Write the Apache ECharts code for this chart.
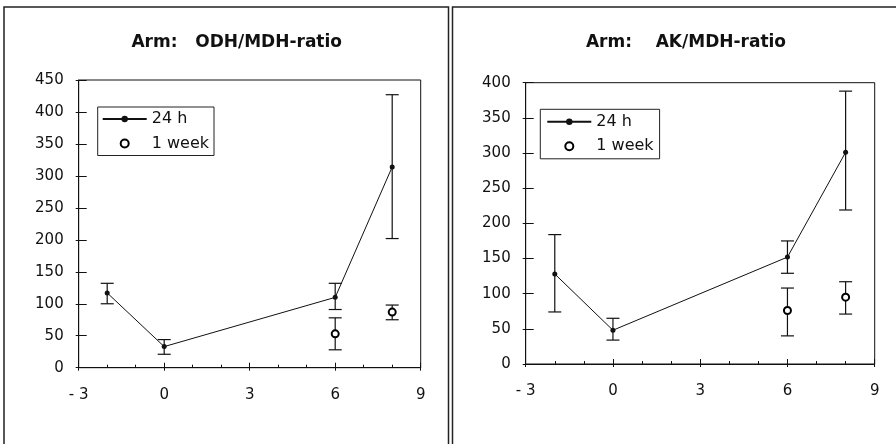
<!DOCTYPE html>
<html>
<head>
<meta charset="utf-8">
<script src="https://cdn.jsdelivr.net/npm/echarts@6/dist/echarts.min.js"></script>
<style>
  html, body { margin: 0; padding: 0; background: #fff; }
  #chart { width: 896px; height: 444px; }
</style>
</head>
<body>
<div id="chart"></div>
<script>
// Sampling times
const hours = [-2, 0, 6, 8];
const weekHours = [6, 8];

// Arm: ODH/MDH-ratio
const odh24Mean = [117, 33, 110, 314];
const odh24Low  = [100, 21, 91, 202];
const odh24High = [132, 44, 132, 427];
const odhWeekMean = [53, 87];
const odhWeekLow  = [28, 75];
const odhWeekHigh = [78, 98];

// Arm: AK/MDH-ratio
const ak24Mean = [128, 48, 152, 301];
const ak24Low  = [74, 34, 129, 219];
const ak24High = [184, 65, 175, 388];
const akWeekMean = [76, 95];
const akWeekLow  = [40, 71];
const akWeekHigh = [108, 117];

const titles = ['Arm:   ODH/MDH-ratio', 'Arm:    AK/MDH-ratio'];
const seriesNames = ['24 h', '1 week'];
const yMax = [450, 400];

const INK = '#111';
const FONT = 'DejaVu Sans';

// plot rectangles of the two panels
const grids = [
  { left: 78.7, top: 80, width: 342, height: 287.7 },
  { left: 525.7, top: 82.7, width: 349, height: 281.3 }
];

function xLabel(v) {
  return v < 0 ? '- ' + Math.abs(v) : String(v);
}

const xAxes = [], yAxes = [], gridOpts = [];
// data grids (0,1): inside ticks + labels; overlay grids (2,3): outside tick stubs
[0, 1].forEach(p => {
  gridOpts.push(Object.assign({ show: true, borderColor: INK, borderWidth: 1, backgroundColor: 'transparent' }, grids[p]));
});
[0, 1].forEach(p => {
  gridOpts.push(Object.assign({ show: false }, grids[p]));
});

const labelStyle = { fontFamily: FONT, fontSize: 15, color: INK };

for (let g = 0; g < 4; g++) {
  const p = g % 2;
  const overlay = g >= 2;
  xAxes.push({
    type: 'value', gridIndex: g, min: -3, max: 9, interval: 3,
    axisLine: { show: !overlay, onZero: false, lineStyle: { color: INK, width: 1 } },
    axisTick: { show: true, inside: !overlay, length: overlay ? 3 : 5, lineStyle: { color: INK, width: 1 } },
    minorTick: { show: !overlay, splitNumber: 3, length: 3, lineStyle: { color: INK, width: 1 } },
    splitLine: { show: false },
    axisLabel: overlay ? { show: false } : Object.assign({ show: true, margin: 20, formatter: xLabel }, labelStyle)
  });
  yAxes.push({
    type: 'value', gridIndex: g, min: 0, max: yMax[p], interval: 50,
    axisLine: { show: !overlay, onZero: false, lineStyle: { color: INK, width: 1 } },
    axisTick: { show: true, inside: !overlay, length: overlay ? 3 : 8, lineStyle: { color: INK, width: 1 } },
    splitLine: { show: false },
    axisLabel: overlay ? { show: false } : Object.assign({ show: true, margin: 15 }, labelStyle)
  });
}

function errorBars(panel, xs, lows, highs) {
  return {
    type: 'custom', xAxisIndex: panel, yAxisIndex: panel, silent: true, z: 2,
    data: xs.map((x, i) => [x, lows[i], highs[i]]),
    encode: { x: 0, y: [1, 2] },
    renderItem(params, api) {
      const x = api.value(0);
      const lo = api.coord([x, api.value(1)]);
      const hi = api.coord([x, api.value(2)]);
      const half = 6.5;
      const st = { stroke: INK, lineWidth: 1.2 };
      return {
        type: 'group',
        children: [
          { type: 'line', shape: { x1: lo[0], y1: lo[1], x2: hi[0], y2: hi[1] }, style: st },
          { type: 'line', shape: { x1: lo[0] - half, y1: lo[1], x2: lo[0] + half, y2: lo[1] }, style: st },
          { type: 'line', shape: { x1: hi[0] - half, y1: hi[1], x2: hi[0] + half, y2: hi[1] }, style: st }
        ]
      };
    }
  };
}

function dayLine(panel, means) {
  return {
    name: seriesNames[0], type: 'line', xAxisIndex: panel, yAxisIndex: panel, z: 3,
    data: hours.map((x, i) => [x, means[i]]),
    symbol: 'circle', symbolSize: 5, showSymbol: true,
    itemStyle: { color: INK },
    lineStyle: { color: INK, width: 1 }
  };
}

function weekPoints(panel, means) {
  return {
    name: seriesNames[1], type: 'scatter', xAxisIndex: panel, yAxisIndex: panel, z: 4,
    data: weekHours.map((x, i) => [x, means[i]]),
    symbol: 'emptyCircle', symbolSize: 7,
    itemStyle: { color: '#000', borderColor: '#000', borderWidth: 3, opacity: 1 }
  };
}

const legendPos = [
  { left: 97.7, top: 107, padding: [2, 5, 2, 4] },
  { left: 540.3, top: 109.3, padding: [2.5, 6, 2.5, 6] }
];

const option = {
  animation: false,
  backgroundColor: '#fff',
  title: [
    { text: titles[0], left: 236.7, top: 34.5, textAlign: 'center', padding: 0,
      textStyle: { fontFamily: FONT, fontSize: 17, fontWeight: 'bold', color: INK } },
    { text: titles[1], left: 686, top: 34.5, textAlign: 'center', padding: 0,
      textStyle: { fontFamily: FONT, fontSize: 17, fontWeight: 'bold', color: INK } }
  ],
  legend: legendPos.map(pos => Object.assign({
    orient: 'vertical', data: seriesNames, selectedMode: false,
    itemWidth: 44, itemHeight: 8, itemGap: 4.5,
    borderColor: '#222', borderWidth: 1, borderRadius: 0,
    textStyle: { fontFamily: FONT, fontSize: 16, color: INK, lineHeight: 20 }
  }, pos)),
  grid: gridOpts,
  xAxis: xAxes,
  yAxis: yAxes,
  series: [
    errorBars(0, hours, odh24Low, odh24High),
    errorBars(0, weekHours, odhWeekLow, odhWeekHigh),
    dayLine(0, odh24Mean),
    weekPoints(0, odhWeekMean),
    errorBars(1, hours, ak24Low, ak24High),
    errorBars(1, weekHours, akWeekLow, akWeekHigh),
    dayLine(1, ak24Mean),
    weekPoints(1, akWeekMean)
  ],
  graphic: [
    // panel frames
    { type: 'polyline', silent: true, shape: { points: [[4, 444], [4, 7], [448.5, 7], [448.5, 444]] },
      style: { stroke: '#222', lineWidth: 1.5, fill: null } },
    { type: 'polyline', silent: true, shape: { points: [[452.5, 444], [452.5, 7], [896, 7]] },
      style: { stroke: '#222', lineWidth: 1.5, fill: null } }
  ]
};

const chart = echarts.init(document.getElementById('chart'), null, { renderer: 'canvas' });
chart.setOption(option);
</script>
</body>
</html>
